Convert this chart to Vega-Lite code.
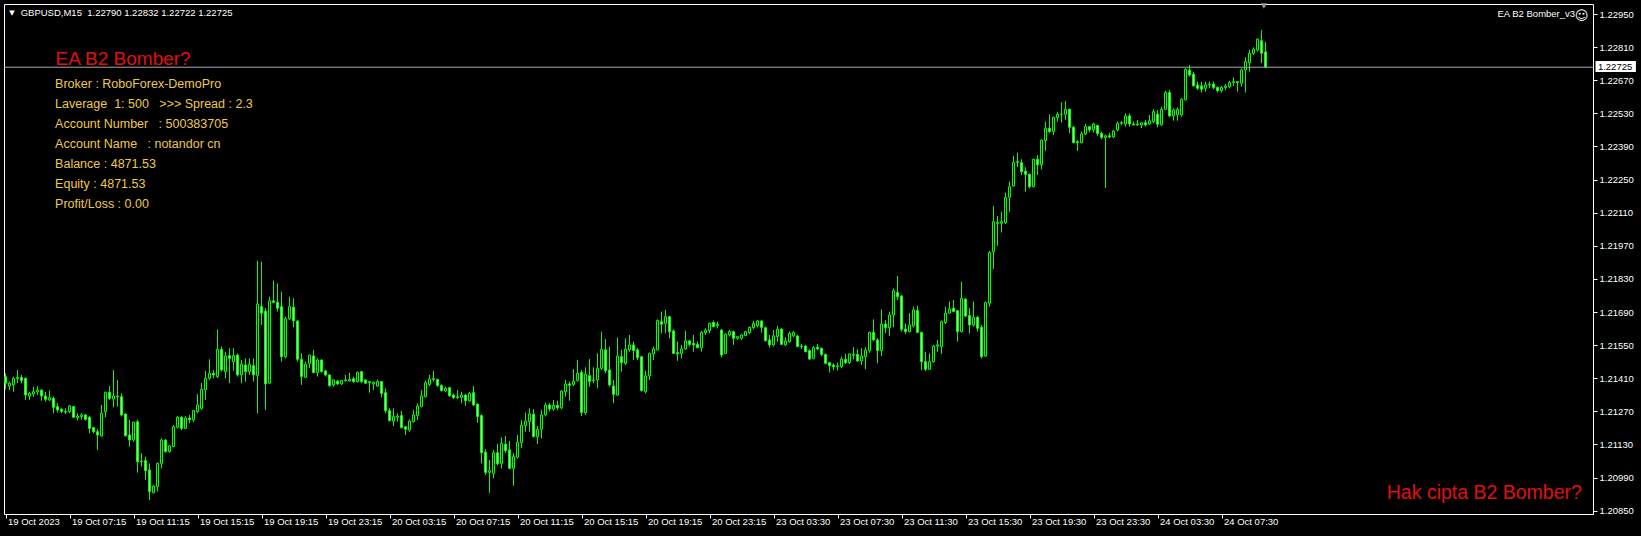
{
"$schema": "https://vega.github.io/schema/vega-lite/v6.json",
"width": 1589, "height": 510,
"autosize": "none",
"padding": {"left": 4, "top": 4, "right": 48, "bottom": 22},
"background": "#000000",
"config": {"view": {"stroke": "#ffffff", "strokeWidth": 1}, "font": "Liberation Sans", "axis": {"labelOverlap": false, "labelSeparation": 0, "labelBound": false, "labelFlush": false}, "axisY": {"orient": "right"}, "axisX": {"orient": "bottom"}},
"datasets": {"bars": [
{"i":0,"o":1.21417,"h":1.21431,"l":1.21363,"c":1.21389},
{"i":1,"o":1.21377,"h":1.21396,"l":1.21360,"c":1.21389},
{"i":2,"o":1.21382,"h":1.21417,"l":1.21353,"c":1.21410},
{"i":3,"o":1.21408,"h":1.21445,"l":1.21389,"c":1.21414},
{"i":4,"o":1.21414,"h":1.21424,"l":1.21389,"c":1.21400},
{"i":5,"o":1.21410,"h":1.21413,"l":1.21318,"c":1.21339},
{"i":6,"o":1.21335,"h":1.21353,"l":1.21318,"c":1.21346},
{"i":7,"o":1.21343,"h":1.21374,"l":1.21332,"c":1.21353},
{"i":8,"o":1.21352,"h":1.21377,"l":1.21339,"c":1.21360},
{"i":9,"o":1.21360,"h":1.21363,"l":1.21315,"c":1.21335},
{"i":10,"o":1.21335,"h":1.21353,"l":1.21311,"c":1.21321},
{"i":11,"o":1.21318,"h":1.21358,"l":1.21314,"c":1.21328},
{"i":12,"o":1.21325,"h":1.21332,"l":1.21262,"c":1.21287},
{"i":13,"o":1.21290,"h":1.21304,"l":1.21265,"c":1.21276},
{"i":14,"o":1.21279,"h":1.21283,"l":1.21262,"c":1.21270},
{"i":15,"o":1.21270,"h":1.21283,"l":1.21259,"c":1.21267},
{"i":16,"o":1.21269,"h":1.21297,"l":1.21262,"c":1.21293},
{"i":17,"o":1.21290,"h":1.21293,"l":1.21241,"c":1.21245},
{"i":18,"o":1.21243,"h":1.21262,"l":1.21231,"c":1.21250},
{"i":19,"o":1.21248,"h":1.21262,"l":1.21234,"c":1.21255},
{"i":20,"o":1.21255,"h":1.21259,"l":1.21231,"c":1.21236},
{"i":21,"o":1.21245,"h":1.21250,"l":1.21177,"c":1.21198},
{"i":22,"o":1.21201,"h":1.21205,"l":1.21177,"c":1.21184},
{"i":23,"o":1.21184,"h":1.21194,"l":1.21107,"c":1.21170},
{"i":24,"o":1.21166,"h":1.21297,"l":1.21163,"c":1.21262},
{"i":25,"o":1.21269,"h":1.21353,"l":1.21245,"c":1.21351},
{"i":26,"o":1.21351,"h":1.21377,"l":1.21318,"c":1.21325},
{"i":27,"o":1.21322,"h":1.21445,"l":1.21287,"c":1.21335},
{"i":28,"o":1.21335,"h":1.21403,"l":1.21290,"c":1.21332},
{"i":29,"o":1.21332,"h":1.21346,"l":1.21248,"c":1.21255},
{"i":30,"o":1.21259,"h":1.21262,"l":1.21163,"c":1.21167},
{"i":31,"o":1.21170,"h":1.21234,"l":1.21121,"c":1.21149},
{"i":32,"o":1.21149,"h":1.21226,"l":1.21142,"c":1.21224},
{"i":33,"o":1.21226,"h":1.21234,"l":1.21011,"c":1.21057},
{"i":34,"o":1.21057,"h":1.21093,"l":1.21036,"c":1.21060},
{"i":35,"o":1.21062,"h":1.21079,"l":1.20980,"c":1.21019},
{"i":36,"o":1.21022,"h":1.21050,"l":1.20895,"c":1.20931},
{"i":37,"o":1.20926,"h":1.20959,"l":1.20923,"c":1.20954},
{"i":38,"o":1.20952,"h":1.21053,"l":1.20931,"c":1.21050},
{"i":39,"o":1.21050,"h":1.21156,"l":1.21029,"c":1.21149},
{"i":40,"o":1.21149,"h":1.21152,"l":1.21095,"c":1.21100},
{"i":41,"o":1.21100,"h":1.21128,"l":1.21095,"c":1.21124},
{"i":42,"o":1.21121,"h":1.21212,"l":1.21118,"c":1.21205},
{"i":43,"o":1.21203,"h":1.21250,"l":1.21198,"c":1.21245},
{"i":44,"o":1.21245,"h":1.21250,"l":1.21191,"c":1.21198},
{"i":45,"o":1.21198,"h":1.21250,"l":1.21195,"c":1.21242},
{"i":46,"o":1.21242,"h":1.21255,"l":1.21220,"c":1.21235},
{"i":47,"o":1.21234,"h":1.21276,"l":1.21225,"c":1.21273},
{"i":48,"o":1.21269,"h":1.21343,"l":1.21262,"c":1.21297},
{"i":49,"o":1.21283,"h":1.21391,"l":1.21276,"c":1.21363},
{"i":50,"o":1.21360,"h":1.21441,"l":1.21318,"c":1.21410},
{"i":51,"o":1.21410,"h":1.21490,"l":1.21403,"c":1.21431},
{"i":52,"o":1.21431,"h":1.21445,"l":1.21410,"c":1.21424},
{"i":53,"o":1.21417,"h":1.21617,"l":1.21410,"c":1.21532},
{"i":54,"o":1.21532,"h":1.21544,"l":1.21438,"c":1.21445},
{"i":55,"o":1.21438,"h":1.21522,"l":1.21410,"c":1.21504},
{"i":56,"o":1.21506,"h":1.21537,"l":1.21389,"c":1.21494},
{"i":57,"o":1.21480,"h":1.21537,"l":1.21442,"c":1.21506},
{"i":58,"o":1.21508,"h":1.21515,"l":1.21417,"c":1.21424},
{"i":59,"o":1.21424,"h":1.21487,"l":1.21389,"c":1.21470},
{"i":60,"o":1.21466,"h":1.21494,"l":1.21396,"c":1.21438},
{"i":61,"o":1.21438,"h":1.21494,"l":1.21424,"c":1.21469},
{"i":62,"o":1.21463,"h":1.21494,"l":1.21396,"c":1.21424},
{"i":63,"o":1.21422,"h":1.21907,"l":1.21261,"c":1.21724},
{"i":64,"o":1.21713,"h":1.21903,"l":1.21635,"c":1.21685},
{"i":65,"o":1.21694,"h":1.21706,"l":1.21276,"c":1.21386},
{"i":66,"o":1.21389,"h":1.21755,"l":1.21386,"c":1.21737},
{"i":67,"o":1.21737,"h":1.21823,"l":1.21727,"c":1.21731},
{"i":68,"o":1.21731,"h":1.21811,"l":1.21692,"c":1.21706},
{"i":69,"o":1.21713,"h":1.21776,"l":1.21480,"c":1.21501},
{"i":70,"o":1.21501,"h":1.21670,"l":1.21494,"c":1.21661},
{"i":71,"o":1.21661,"h":1.21755,"l":1.21656,"c":1.21713},
{"i":72,"o":1.21710,"h":1.21748,"l":1.21625,"c":1.21653},
{"i":73,"o":1.21652,"h":1.21656,"l":1.21480,"c":1.21490},
{"i":74,"o":1.21490,"h":1.21515,"l":1.21382,"c":1.21417},
{"i":75,"o":1.21414,"h":1.21480,"l":1.21410,"c":1.21470},
{"i":76,"o":1.21473,"h":1.21508,"l":1.21452,"c":1.21508},
{"i":77,"o":1.21504,"h":1.21529,"l":1.21431,"c":1.21434},
{"i":78,"o":1.21434,"h":1.21494,"l":1.21417,"c":1.21487},
{"i":79,"o":1.21487,"h":1.21490,"l":1.21434,"c":1.21438},
{"i":80,"o":1.21441,"h":1.21445,"l":1.21417,"c":1.21424},
{"i":81,"o":1.21424,"h":1.21427,"l":1.21374,"c":1.21379},
{"i":82,"o":1.21382,"h":1.21405,"l":1.21374,"c":1.21403},
{"i":83,"o":1.21398,"h":1.21403,"l":1.21382,"c":1.21386},
{"i":84,"o":1.21386,"h":1.21403,"l":1.21382,"c":1.21400},
{"i":85,"o":1.21400,"h":1.21424,"l":1.21396,"c":1.21403},
{"i":86,"o":1.21398,"h":1.21434,"l":1.21396,"c":1.21405},
{"i":87,"o":1.21408,"h":1.21417,"l":1.21391,"c":1.21396},
{"i":88,"o":1.21396,"h":1.21438,"l":1.21391,"c":1.21435},
{"i":89,"o":1.21438,"h":1.21441,"l":1.21389,"c":1.21396},
{"i":90,"o":1.21403,"h":1.21405,"l":1.21386,"c":1.21389},
{"i":91,"o":1.21391,"h":1.21398,"l":1.21349,"c":1.21396},
{"i":92,"o":1.21386,"h":1.21396,"l":1.21360,"c":1.21393},
{"i":93,"o":1.21377,"h":1.21405,"l":1.21374,"c":1.21396},
{"i":94,"o":1.21396,"h":1.21398,"l":1.21329,"c":1.21346},
{"i":95,"o":1.21349,"h":1.21367,"l":1.21262,"c":1.21273},
{"i":96,"o":1.21273,"h":1.21283,"l":1.21227,"c":1.21231},
{"i":97,"o":1.21229,"h":1.21283,"l":1.21208,"c":1.21248},
{"i":98,"o":1.21245,"h":1.21262,"l":1.21227,"c":1.21250},
{"i":99,"o":1.21252,"h":1.21273,"l":1.21198,"c":1.21201},
{"i":100,"o":1.21205,"h":1.21208,"l":1.21170,"c":1.21194},
{"i":101,"o":1.21191,"h":1.21236,"l":1.21184,"c":1.21229},
{"i":102,"o":1.21227,"h":1.21276,"l":1.21222,"c":1.21255},
{"i":103,"o":1.21252,"h":1.21304,"l":1.21234,"c":1.21293},
{"i":104,"o":1.21290,"h":1.21360,"l":1.21287,"c":1.21335},
{"i":105,"o":1.21332,"h":1.21400,"l":1.21329,"c":1.21391},
{"i":106,"o":1.21384,"h":1.21424,"l":1.21377,"c":1.21408},
{"i":107,"o":1.21405,"h":1.21441,"l":1.21396,"c":1.21410},
{"i":108,"o":1.21405,"h":1.21408,"l":1.21374,"c":1.21379},
{"i":109,"o":1.21380,"h":1.21384,"l":1.21353,"c":1.21358},
{"i":110,"o":1.21356,"h":1.21374,"l":1.21353,"c":1.21367},
{"i":111,"o":1.21370,"h":1.21374,"l":1.21332,"c":1.21336},
{"i":112,"o":1.21339,"h":1.21346,"l":1.21322,"c":1.21328},
{"i":113,"o":1.21328,"h":1.21360,"l":1.21322,"c":1.21332},
{"i":114,"o":1.21329,"h":1.21353,"l":1.21304,"c":1.21339},
{"i":115,"o":1.21339,"h":1.21343,"l":1.21293,"c":1.21315},
{"i":116,"o":1.21314,"h":1.21353,"l":1.21311,"c":1.21346},
{"i":117,"o":1.21349,"h":1.21377,"l":1.21293,"c":1.21297},
{"i":118,"o":1.21301,"h":1.21304,"l":1.21222,"c":1.21248},
{"i":119,"o":1.21252,"h":1.21258,"l":1.21050,"c":1.21095},
{"i":120,"o":1.21098,"h":1.21110,"l":1.21001,"c":1.21012},
{"i":121,"o":1.21012,"h":1.21064,"l":1.20926,"c":1.21019},
{"i":122,"o":1.21008,"h":1.21107,"l":1.20987,"c":1.21095},
{"i":123,"o":1.21095,"h":1.21132,"l":1.21043,"c":1.21048},
{"i":124,"o":1.21050,"h":1.21160,"l":1.21029,"c":1.21135},
{"i":125,"o":1.21131,"h":1.21166,"l":1.21095,"c":1.21104},
{"i":126,"o":1.21107,"h":1.21145,"l":1.21025,"c":1.21029},
{"i":127,"o":1.21029,"h":1.21093,"l":1.20955,"c":1.21079},
{"i":128,"o":1.21076,"h":1.21170,"l":1.21071,"c":1.21139},
{"i":129,"o":1.21138,"h":1.21234,"l":1.21114,"c":1.21212},
{"i":130,"o":1.21210,"h":1.21265,"l":1.21184,"c":1.21229},
{"i":131,"o":1.21227,"h":1.21283,"l":1.21184,"c":1.21259},
{"i":132,"o":1.21258,"h":1.21279,"l":1.21160,"c":1.21163},
{"i":133,"o":1.21163,"h":1.21208,"l":1.21132,"c":1.21194},
{"i":134,"o":1.21194,"h":1.21276,"l":1.21156,"c":1.21255},
{"i":135,"o":1.21255,"h":1.21307,"l":1.21248,"c":1.21297},
{"i":136,"o":1.21297,"h":1.21304,"l":1.21270,"c":1.21280},
{"i":137,"o":1.21280,"h":1.21318,"l":1.21273,"c":1.21295},
{"i":138,"o":1.21295,"h":1.21315,"l":1.21275,"c":1.21285},
{"i":139,"o":1.21285,"h":1.21360,"l":1.21279,"c":1.21356},
{"i":140,"o":1.21353,"h":1.21403,"l":1.21332,"c":1.21386},
{"i":141,"o":1.21386,"h":1.21396,"l":1.21315,"c":1.21380},
{"i":142,"o":1.21384,"h":1.21448,"l":1.21377,"c":1.21398},
{"i":143,"o":1.21400,"h":1.21487,"l":1.21396,"c":1.21431},
{"i":144,"o":1.21435,"h":1.21445,"l":1.21250,"c":1.21265},
{"i":145,"o":1.21265,"h":1.21456,"l":1.21255,"c":1.21427},
{"i":146,"o":1.21421,"h":1.21491,"l":1.21374,"c":1.21396},
{"i":147,"o":1.21400,"h":1.21456,"l":1.21389,"c":1.21403},
{"i":148,"o":1.21403,"h":1.21515,"l":1.21367,"c":1.21452},
{"i":149,"o":1.21452,"h":1.21607,"l":1.21445,"c":1.21532},
{"i":150,"o":1.21530,"h":1.21575,"l":1.21431,"c":1.21442},
{"i":151,"o":1.21445,"h":1.21544,"l":1.21374,"c":1.21382},
{"i":152,"o":1.21377,"h":1.21403,"l":1.21304,"c":1.21342},
{"i":153,"o":1.21339,"h":1.21582,"l":1.21335,"c":1.21504},
{"i":154,"o":1.21501,"h":1.21530,"l":1.21438,"c":1.21476},
{"i":155,"o":1.21473,"h":1.21579,"l":1.21466,"c":1.21534},
{"i":156,"o":1.21530,"h":1.21593,"l":1.21522,"c":1.21551},
{"i":157,"o":1.21551,"h":1.21565,"l":1.21487,"c":1.21527},
{"i":158,"o":1.21530,"h":1.21537,"l":1.21487,"c":1.21497},
{"i":159,"o":1.21501,"h":1.21504,"l":1.21353,"c":1.21358},
{"i":160,"o":1.21353,"h":1.21442,"l":1.21346,"c":1.21420},
{"i":161,"o":1.21420,"h":1.21518,"l":1.21403,"c":1.21515},
{"i":162,"o":1.21513,"h":1.21544,"l":1.21487,"c":1.21534},
{"i":163,"o":1.21530,"h":1.21659,"l":1.21527,"c":1.21654},
{"i":164,"o":1.21649,"h":1.21692,"l":1.21600,"c":1.21638},
{"i":165,"o":1.21642,"h":1.21699,"l":1.21600,"c":1.21670},
{"i":166,"o":1.21670,"h":1.21673,"l":1.21579,"c":1.21607},
{"i":167,"o":1.21610,"h":1.21617,"l":1.21513,"c":1.21515},
{"i":168,"o":1.21518,"h":1.21565,"l":1.21484,"c":1.21513},
{"i":169,"o":1.21515,"h":1.21551,"l":1.21494,"c":1.21534},
{"i":170,"o":1.21534,"h":1.21611,"l":1.21530,"c":1.21568},
{"i":171,"o":1.21568,"h":1.21572,"l":1.21544,"c":1.21553},
{"i":172,"o":1.21558,"h":1.21593,"l":1.21522,"c":1.21551},
{"i":173,"o":1.21553,"h":1.21565,"l":1.21537,"c":1.21539},
{"i":174,"o":1.21539,"h":1.21610,"l":1.21522,"c":1.21604},
{"i":175,"o":1.21603,"h":1.21621,"l":1.21593,"c":1.21614},
{"i":176,"o":1.21611,"h":1.21645,"l":1.21600,"c":1.21642},
{"i":177,"o":1.21646,"h":1.21654,"l":1.21625,"c":1.21628},
{"i":178,"o":1.21632,"h":1.21649,"l":1.21621,"c":1.21638},
{"i":179,"o":1.21614,"h":1.21617,"l":1.21498,"c":1.21508},
{"i":180,"o":1.21515,"h":1.21600,"l":1.21513,"c":1.21596},
{"i":181,"o":1.21593,"h":1.21614,"l":1.21586,"c":1.21607},
{"i":182,"o":1.21607,"h":1.21611,"l":1.21551,"c":1.21579},
{"i":183,"o":1.21579,"h":1.21589,"l":1.21572,"c":1.21586},
{"i":184,"o":1.21579,"h":1.21596,"l":1.21572,"c":1.21593},
{"i":185,"o":1.21590,"h":1.21610,"l":1.21589,"c":1.21607},
{"i":186,"o":1.21603,"h":1.21628,"l":1.21597,"c":1.21625},
{"i":187,"o":1.21624,"h":1.21653,"l":1.21617,"c":1.21642},
{"i":188,"o":1.21631,"h":1.21656,"l":1.21625,"c":1.21652},
{"i":189,"o":1.21652,"h":1.21656,"l":1.21603,"c":1.21625},
{"i":190,"o":1.21624,"h":1.21628,"l":1.21565,"c":1.21569},
{"i":191,"o":1.21572,"h":1.21593,"l":1.21539,"c":1.21551},
{"i":192,"o":1.21551,"h":1.21614,"l":1.21544,"c":1.21589},
{"i":193,"o":1.21586,"h":1.21631,"l":1.21565,"c":1.21618},
{"i":194,"o":1.21618,"h":1.21621,"l":1.21551,"c":1.21553},
{"i":195,"o":1.21551,"h":1.21583,"l":1.21546,"c":1.21568},
{"i":196,"o":1.21565,"h":1.21607,"l":1.21560,"c":1.21600},
{"i":197,"o":1.21589,"h":1.21610,"l":1.21583,"c":1.21603},
{"i":198,"o":1.21589,"h":1.21593,"l":1.21541,"c":1.21544},
{"i":199,"o":1.21544,"h":1.21555,"l":1.21534,"c":1.21546},
{"i":200,"o":1.21546,"h":1.21551,"l":1.21520,"c":1.21522},
{"i":201,"o":1.21527,"h":1.21532,"l":1.21487,"c":1.21491},
{"i":202,"o":1.21494,"h":1.21546,"l":1.21490,"c":1.21539},
{"i":203,"o":1.21541,"h":1.21555,"l":1.21529,"c":1.21534},
{"i":204,"o":1.21537,"h":1.21539,"l":1.21504,"c":1.21511},
{"i":205,"o":1.21511,"h":1.21515,"l":1.21469,"c":1.21473},
{"i":206,"o":1.21476,"h":1.21479,"l":1.21434,"c":1.21463},
{"i":207,"o":1.21466,"h":1.21473,"l":1.21445,"c":1.21459},
{"i":208,"o":1.21459,"h":1.21476,"l":1.21442,"c":1.21462},
{"i":209,"o":1.21459,"h":1.21501,"l":1.21452,"c":1.21491},
{"i":210,"o":1.21490,"h":1.21513,"l":1.21470,"c":1.21476},
{"i":211,"o":1.21476,"h":1.21515,"l":1.21470,"c":1.21513},
{"i":212,"o":1.21507,"h":1.21541,"l":1.21490,"c":1.21511},
{"i":213,"o":1.21511,"h":1.21532,"l":1.21480,"c":1.21483},
{"i":214,"o":1.21483,"h":1.21537,"l":1.21466,"c":1.21504},
{"i":215,"o":1.21501,"h":1.21541,"l":1.21448,"c":1.21529},
{"i":216,"o":1.21527,"h":1.21607,"l":1.21518,"c":1.21604},
{"i":217,"o":1.21604,"h":1.21659,"l":1.21569,"c":1.21572},
{"i":218,"o":1.21572,"h":1.21579,"l":1.21473,"c":1.21527},
{"i":219,"o":1.21527,"h":1.21701,"l":1.21504,"c":1.21639},
{"i":220,"o":1.21639,"h":1.21656,"l":1.21600,"c":1.21624},
{"i":221,"o":1.21624,"h":1.21692,"l":1.21589,"c":1.21677},
{"i":222,"o":1.21677,"h":1.21790,"l":1.21625,"c":1.21780},
{"i":223,"o":1.21773,"h":1.21842,"l":1.21741,"c":1.21755},
{"i":224,"o":1.21758,"h":1.21762,"l":1.21607,"c":1.21617},
{"i":225,"o":1.21618,"h":1.21642,"l":1.21597,"c":1.21607},
{"i":226,"o":1.21607,"h":1.21685,"l":1.21603,"c":1.21635},
{"i":227,"o":1.21631,"h":1.21713,"l":1.21625,"c":1.21699},
{"i":228,"o":1.21696,"h":1.21716,"l":1.21600,"c":1.21604},
{"i":229,"o":1.21604,"h":1.21607,"l":1.21445,"c":1.21480},
{"i":230,"o":1.21480,"h":1.21522,"l":1.21440,"c":1.21448},
{"i":231,"o":1.21448,"h":1.21515,"l":1.21445,"c":1.21480},
{"i":232,"o":1.21480,"h":1.21551,"l":1.21476,"c":1.21546},
{"i":233,"o":1.21546,"h":1.21572,"l":1.21522,"c":1.21551},
{"i":234,"o":1.21544,"h":1.21654,"l":1.21513,"c":1.21649},
{"i":235,"o":1.21645,"h":1.21713,"l":1.21639,"c":1.21685},
{"i":236,"o":1.21685,"h":1.21734,"l":1.21682,"c":1.21703},
{"i":237,"o":1.21706,"h":1.21741,"l":1.21689,"c":1.21692},
{"i":238,"o":1.21696,"h":1.21699,"l":1.21565,"c":1.21607},
{"i":239,"o":1.21607,"h":1.21818,"l":1.21604,"c":1.21748},
{"i":240,"o":1.21745,"h":1.21748,"l":1.21668,"c":1.21673},
{"i":241,"o":1.21675,"h":1.21706,"l":1.21600,"c":1.21635},
{"i":242,"o":1.21635,"h":1.21734,"l":1.21628,"c":1.21668},
{"i":243,"o":1.21668,"h":1.21673,"l":1.21607,"c":1.21621},
{"i":244,"o":1.21625,"h":1.21635,"l":1.21494,"c":1.21501},
{"i":245,"o":1.21504,"h":1.21734,"l":1.21501,"c":1.21730},
{"i":246,"o":1.21727,"h":1.21948,"l":1.21713,"c":1.21942},
{"i":247,"o":1.21945,"h":1.22138,"l":1.21872,"c":1.22072},
{"i":248,"o":1.22068,"h":1.22096,"l":1.21969,"c":1.22065},
{"i":249,"o":1.22065,"h":1.22114,"l":1.22026,"c":1.22072},
{"i":250,"o":1.22068,"h":1.22195,"l":1.22062,"c":1.22175},
{"i":251,"o":1.22175,"h":1.22241,"l":1.22114,"c":1.22220},
{"i":252,"o":1.22223,"h":1.22350,"l":1.22220,"c":1.22322},
{"i":253,"o":1.22322,"h":1.22364,"l":1.22302,"c":1.22326},
{"i":254,"o":1.22322,"h":1.22336,"l":1.22269,"c":1.22283},
{"i":255,"o":1.22286,"h":1.22302,"l":1.22199,"c":1.22272},
{"i":256,"o":1.22272,"h":1.22276,"l":1.22213,"c":1.22220},
{"i":257,"o":1.22220,"h":1.22338,"l":1.22217,"c":1.22336},
{"i":258,"o":1.22336,"h":1.22354,"l":1.22269,"c":1.22312},
{"i":259,"o":1.22312,"h":1.22420,"l":1.22293,"c":1.22417},
{"i":260,"o":1.22415,"h":1.22495,"l":1.22372,"c":1.22467},
{"i":261,"o":1.22467,"h":1.22526,"l":1.22446,"c":1.22453},
{"i":262,"o":1.22453,"h":1.22516,"l":1.22439,"c":1.22513},
{"i":263,"o":1.22513,"h":1.22537,"l":1.22495,"c":1.22526},
{"i":264,"o":1.22526,"h":1.22577,"l":1.22491,"c":1.22527},
{"i":265,"o":1.22526,"h":1.22582,"l":1.22502,"c":1.22547},
{"i":266,"o":1.22547,"h":1.22550,"l":1.22446,"c":1.22471},
{"i":267,"o":1.22471,"h":1.22477,"l":1.22403,"c":1.22406},
{"i":268,"o":1.22410,"h":1.22417,"l":1.22371,"c":1.22406},
{"i":269,"o":1.22406,"h":1.22453,"l":1.22403,"c":1.22443},
{"i":270,"o":1.22443,"h":1.22485,"l":1.22438,"c":1.22474},
{"i":271,"o":1.22474,"h":1.22477,"l":1.22450,"c":1.22460},
{"i":272,"o":1.22460,"h":1.22491,"l":1.22448,"c":1.22485},
{"i":273,"o":1.22479,"h":1.22482,"l":1.22435,"c":1.22445},
{"i":274,"o":1.22445,"h":1.22452,"l":1.22420,"c":1.22428},
{"i":275,"o":1.22428,"h":1.22440,"l":1.22215,"c":1.22435},
{"i":276,"o":1.22435,"h":1.22448,"l":1.22425,"c":1.22430},
{"i":277,"o":1.22430,"h":1.22460,"l":1.22426,"c":1.22455},
{"i":278,"o":1.22460,"h":1.22495,"l":1.22453,"c":1.22488},
{"i":279,"o":1.22488,"h":1.22498,"l":1.22480,"c":1.22491},
{"i":280,"o":1.22485,"h":1.22530,"l":1.22474,"c":1.22519},
{"i":281,"o":1.22519,"h":1.22530,"l":1.22474,"c":1.22485},
{"i":282,"o":1.22485,"h":1.22495,"l":1.22479,"c":1.22481},
{"i":283,"o":1.22481,"h":1.22502,"l":1.22477,"c":1.22485},
{"i":284,"o":1.22481,"h":1.22491,"l":1.22467,"c":1.22490},
{"i":285,"o":1.22491,"h":1.22502,"l":1.22474,"c":1.22481},
{"i":286,"o":1.22485,"h":1.22523,"l":1.22481,"c":1.22499},
{"i":287,"o":1.22495,"h":1.22547,"l":1.22488,"c":1.22537},
{"i":288,"o":1.22527,"h":1.22544,"l":1.22471,"c":1.22484},
{"i":289,"o":1.22481,"h":1.22558,"l":1.22477,"c":1.22547},
{"i":290,"o":1.22547,"h":1.22625,"l":1.22544,"c":1.22618},
{"i":291,"o":1.22618,"h":1.22629,"l":1.22513,"c":1.22519},
{"i":292,"o":1.22519,"h":1.22551,"l":1.22499,"c":1.22544},
{"i":293,"o":1.22523,"h":1.22555,"l":1.22499,"c":1.22547},
{"i":294,"o":1.22523,"h":1.22594,"l":1.22516,"c":1.22589},
{"i":295,"o":1.22587,"h":1.22720,"l":1.22584,"c":1.22716},
{"i":296,"o":1.22713,"h":1.22734,"l":1.22685,"c":1.22692},
{"i":297,"o":1.22696,"h":1.22706,"l":1.22643,"c":1.22646},
{"i":298,"o":1.22650,"h":1.22664,"l":1.22629,"c":1.22636},
{"i":299,"o":1.22646,"h":1.22664,"l":1.22618,"c":1.22632},
{"i":300,"o":1.22636,"h":1.22664,"l":1.22622,"c":1.22650},
{"i":301,"o":1.22650,"h":1.22664,"l":1.22636,"c":1.22654},
{"i":302,"o":1.22654,"h":1.22664,"l":1.22632,"c":1.22639},
{"i":303,"o":1.22640,"h":1.22643,"l":1.22618,"c":1.22626},
{"i":304,"o":1.22626,"h":1.22646,"l":1.22618,"c":1.22639},
{"i":305,"o":1.22639,"h":1.22654,"l":1.22629,"c":1.22646},
{"i":306,"o":1.22643,"h":1.22668,"l":1.22636,"c":1.22660},
{"i":307,"o":1.22660,"h":1.22682,"l":1.22646,"c":1.22664},
{"i":308,"o":1.22664,"h":1.22665,"l":1.22622,"c":1.22660},
{"i":309,"o":1.22657,"h":1.22720,"l":1.22643,"c":1.22713},
{"i":310,"o":1.22713,"h":1.22767,"l":1.22618,"c":1.22749},
{"i":311,"o":1.22744,"h":1.22798,"l":1.22706,"c":1.22784},
{"i":312,"o":1.22784,"h":1.22809,"l":1.22777,"c":1.22801},
{"i":313,"o":1.22798,"h":1.22847,"l":1.22791,"c":1.22844},
{"i":314,"o":1.22837,"h":1.22882,"l":1.22742,"c":1.22784},
{"i":315,"o":1.22790,"h":1.22832,"l":1.22722,"c":1.22725}
]},
"layer": [
{
"data": {"name": "bars"},
"mark": {"type": "rule", "color": "#00ff00", "strokeWidth": 1},
"encoding": {
"x": {"field": "i", "type": "quantitative", "scale": {"domain": [-0.375, 396.875], "nice": false, "zero": false, "padding": 0},
"axis": {"orient": "bottom", "values": [0,16,32,48,64,80,96,112,128,144,160,176,192,208,224,240,256,272,288,304], "tickCount": 40,
"labelExpr": "['19 Oct 2023','19 Oct 07:15','19 Oct 11:15','19 Oct 15:15','19 Oct 19:15','19 Oct 23:15','20 Oct 03:15','20 Oct 07:15','20 Oct 11:15','20 Oct 15:15','20 Oct 19:15','20 Oct 23:15','23 Oct 03:30','23 Oct 07:30','23 Oct 11:30','23 Oct 15:30','23 Oct 19:30','23 Oct 23:30','24 Oct 03:30','24 Oct 07:30'][round(datum.value/16)]",
"labelAlign": "left", "labelBaseline": "middle", "labelOffset": 2, "labelPadding": 3, "tickSize": 4,
"tickColor": "#ffffff", "labelColor": "#ffffff", "labelFont": "Liberation Sans", "labelFontSize": 9.5,
"domain": false, "grid": false, "title": null, "labelOverlap": false, "labelFlush": false, "labelBound": false}},
"y": {"field": "l", "type": "quantitative", "scale": {"domain": [1.20836, 1.229923], "nice": false, "zero": false, "padding": 0},
"axis": {"orient": "right", "values": [1.2085,1.2099,1.2113,1.2127,1.2141,1.2155,1.2169,1.2183,1.2197,1.2211,1.2225,1.2239,1.2253,1.2267,1.2281,1.2295], "tickCount": 40,
"format": ".5f", "tickSize": 4, "labelPadding": 2, "tickColor": "#ffffff", "labelColor": "#ffffff", "labelBaseline": "middle",
"labelFont": "Liberation Sans", "labelFontSize": 9.5, "domain": false, "grid": false, "title": null, "labelOverlap": false, "labelBound": false, "labelFlush": false, "labelSeparation": 0}},
"y2": {"field": "h"}
}
},
{
"data": {"name": "bars"},
"mark": {"type": "bar", "width": 2, "stroke": "#00ff00", "strokeWidth": 1},
"encoding": {
"x": {"field": "i", "type": "quantitative", "scale": {"domain": [-0.375, 396.875], "nice": false, "zero": false, "padding": 0}},
"y": {"field": "o", "type": "quantitative", "scale": {"domain": [1.20836, 1.229923], "nice": false, "zero": false, "padding": 0}},
"y2": {"field": "c"},
"fill": {"condition": {"test": "datum.c < datum.o", "value": "#8ff08f"}, "value": "#000000"}
}
},
{
"data": {"values": [{}]},
"mark": {"type": "rule", "color": "#a0a8b4", "strokeWidth": 1},
"encoding": {"y": {"datum": 1.22725, "type": "quantitative", "scale": {"domain": [1.20836, 1.229923], "nice": false, "zero": false, "padding": 0}}}
},
{
"data": {"values": [{}]},
"mark": {"type": "rect", "color": "#ffffff"},
"encoding": {
"x": {"datum": 397.5, "type": "quantitative", "scale": {"domain": [-0.375, 396.875], "nice": false, "zero": false, "padding": 0}},
"x2": {"datum": 407.6},
"y": {"datum": 1.227513, "type": "quantitative", "scale": {"domain": [1.20836, 1.229923], "nice": false, "zero": false, "padding": 0}},
"y2": {"datum": 1.227048}
}
},
{
"data": {"values": [{}]},
"mark": {"type": "text", "text": "1.22725", "color": "#000000", "font": "Liberation Sans", "fontSize": 9.5, "align": "left", "baseline": "alphabetic"},
"encoding": {
"x": {"datum": 398.1, "type": "quantitative", "scale": {"domain": [-0.375, 396.875], "nice": false, "zero": false, "padding": 0}},
"y": {"datum": 1.227133, "type": "quantitative", "scale": {"domain": [1.20836, 1.229923], "nice": false, "zero": false, "padding": 0}}
}
},
{
"data": {"values": [{}]},
"mark": {"type": "point", "shape": "triangle-down", "filled": true, "color": "#8a9bb0", "size": 40, "opacity": 1},
"encoding": {
"x": {"datum": 314.6, "type": "quantitative", "scale": {"domain": [-0.375, 396.875], "nice": false, "zero": false, "padding": 0}},
"y": {"datum": 1.22984, "type": "quantitative", "scale": {"domain": [1.20836, 1.229923], "nice": false, "zero": false, "padding": 0}}
}
},
{
"data": {"values": [{}]},
"mark": {"type": "text", "text": "▼", "color": "#ffffff", "font": "DejaVu Sans", "fontSize": 7, "align": "center", "baseline": "middle"},
"encoding": {
"x": {"datum": 1.6, "type": "quantitative", "scale": {"domain": [-0.375, 396.875], "nice": false, "zero": false, "padding": 0}},
"y": {"datum": 1.229555, "type": "quantitative", "scale": {"domain": [1.20836, 1.229923], "nice": false, "zero": false, "padding": 0}}
}
},
{
"data": {"values": [{}]},
"mark": {"type": "text", "text": "GBPUSD,M15\u00a0\u00a01.22790 1.22832 1.22722 1.22725", "color": "#ffffff", "font": "Liberation Sans", "fontSize": 9.5, "align": "left", "baseline": "alphabetic"},
"encoding": {
"x": {"datum": 3.8, "type": "quantitative", "scale": {"domain": [-0.375, 396.875], "nice": false, "zero": false, "padding": 0}},
"y": {"datum": 1.229416, "type": "quantitative", "scale": {"domain": [1.20836, 1.229923], "nice": false, "zero": false, "padding": 0}}
}
},
{
"data": {"values": [{}]},
"mark": {"type": "text", "text": "EA B2 Bomber?", "color": "#e01010", "font": "Liberation Sans", "fontSize": 19, "align": "left", "baseline": "alphabetic"},
"encoding": {
"x": {"datum": 12.5, "type": "quantitative", "scale": {"domain": [-0.375, 396.875], "nice": false, "zero": false, "padding": 0}},
"y": {"datum": 1.227344, "type": "quantitative", "scale": {"domain": [1.20836, 1.229923], "nice": false, "zero": false, "padding": 0}}
}
},
{
"data": {"values": [{}]},
"mark": {"type": "text", "text": ["Broker : RoboForex-DemoPro", "Laverage\u00a0\u00a01: 500\u00a0\u00a0\u00a0>>> Spread : 2.3", "Account Number\u00a0\u00a0\u00a0: 500383705", "Account Name\u00a0\u00a0\u00a0: notandor cn", "Balance : 4871.53", "Equity : 4871.53", "Profit/Loss : 0.00"], "lineHeight": 20, "color": "#edc94a", "font": "Liberation Sans", "fontSize": 12.5, "align": "left", "baseline": "alphabetic"},
"encoding": {
"x": {"datum": 12.4, "type": "quantitative", "scale": {"domain": [-0.375, 396.875], "nice": false, "zero": false, "padding": 0}},
"y": {"datum": 1.226384, "type": "quantitative", "scale": {"domain": [1.20836, 1.229923], "nice": false, "zero": false, "padding": 0}}
}
},
{
"data": {"values": [{}]},
"mark": {"type": "text", "text": "EA B2 Bomber_v3", "color": "#ffffff", "font": "Liberation Sans", "fontSize": 9.5, "align": "right", "baseline": "alphabetic"},
"encoding": {
"x": {"datum": 392.4, "type": "quantitative", "scale": {"domain": [-0.375, 396.875], "nice": false, "zero": false, "padding": 0}},
"y": {"datum": 1.229361, "type": "quantitative", "scale": {"domain": [1.20836, 1.229923], "nice": false, "zero": false, "padding": 0}}
}
},
{
"data": {"values": [{}]},
"mark": {"type": "text", "text": "☺", "color": "#ffffff", "font": "DejaVu Sans", "fontSize": 13, "align": "center", "baseline": "middle"},
"encoding": {
"x": {"datum": 394.0, "type": "quantitative", "scale": {"domain": [-0.375, 396.875], "nice": false, "zero": false, "padding": 0}},
"y": {"datum": 1.229416, "type": "quantitative", "scale": {"domain": [1.20836, 1.229923], "nice": false, "zero": false, "padding": 0}}
}
},
{
"data": {"values": [{}]},
"mark": {"type": "text", "text": "Hak cipta B2 Bomber?", "color": "#e01010", "font": "Liberation Sans", "fontSize": 19.5, "align": "right", "baseline": "alphabetic"},
"encoding": {
"x": {"datum": 394.1, "type": "quantitative", "scale": {"domain": [-0.375, 396.875], "nice": false, "zero": false, "padding": 0}},
"y": {"datum": 1.208982, "type": "quantitative", "scale": {"domain": [1.20836, 1.229923], "nice": false, "zero": false, "padding": 0}}
}
}
]
}
